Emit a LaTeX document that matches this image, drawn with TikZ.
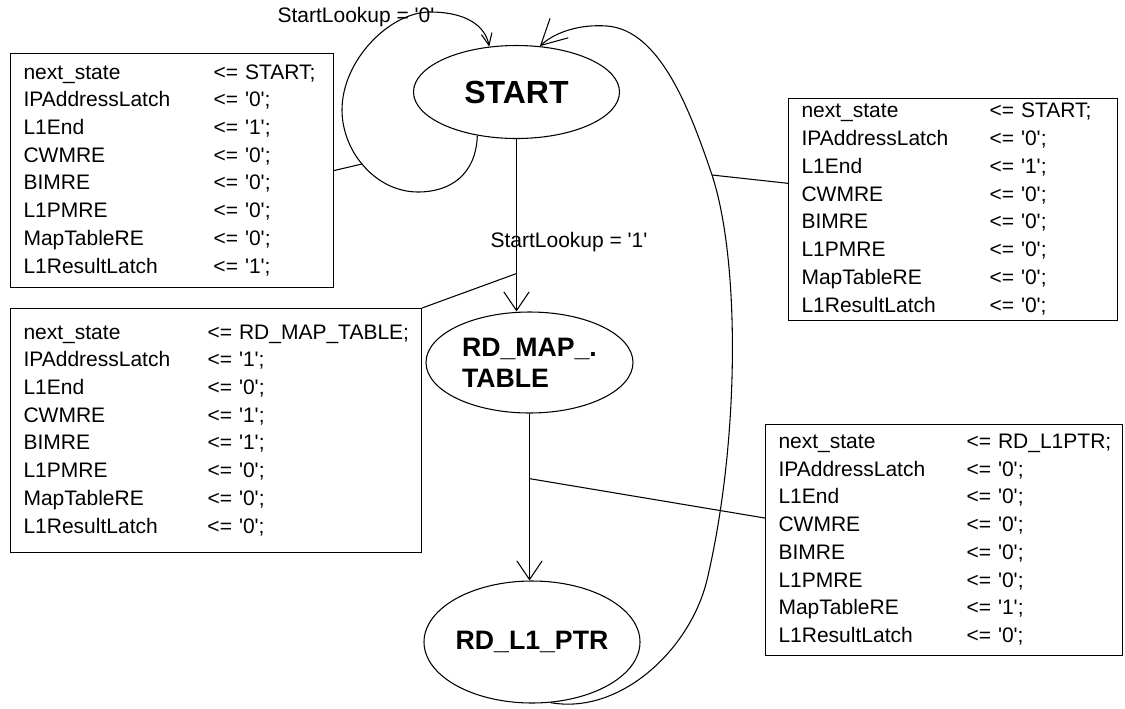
\documentclass[tikz,border=0pt]{standalone}
\usepackage{fontspec}
\usetikzlibrary{arrows.meta,shapes.geometric}
\newfontfamily\diagfont{Liberation Sans}
\newcommand{\sig}[1]{\textquotesingle#1\textquotesingle}
\newcommand{\acts}[9] % {colonne}{next_state}{IPAddressLatch}{L1End}{CWMRE}{BIMRE}{L1PMRE}{MapTableRE}{L1ResultLatch}
{%
	\begin{tabular}{@{}p{#1}@{}l@{}}
	next\_state & <= #2;\\
	IPAddressLatch & <= \sig{#3};\\
	L1End & <= \sig{#4};\\
	CWMRE & <= \sig{#5};\\
	BIMRE & <= \sig{#6};\\
	L1PMRE & <= \sig{#7};\\
	MapTableRE & <= \sig{#8};\\
	L1ResultLatch & <= \sig{#9};
	\end{tabular}%
}
\tikzset{
	state/.style={ellipse, draw, line width=0.8pt, inner sep=0pt, font=\diagfont\bfseries\fontsize{20}{23}\selectfont},
	actbox/.style={draw, line width=0.8pt, anchor=north west, inner xsep=9.75pt, inner ysep=0pt, font=\diagfont\fontsize{15.75}{20.8}\selectfont},
	guard/.style={font=\diagfont\fontsize{15.75}{20.8}\selectfont},
	link/.style={line width=0.8pt},
	trans/.style={line width=0.8pt, -{Straight Barb[length=14pt,width=19pt]}},
	selfloop/.style={line width=0.8pt, -{Straight Barb[length=9pt,width=8pt]}},
	backloop/.style={line width=0.8pt, -{Straight Barb[length=19pt,width=20pt]}}
}

\begin{document}
\begin{tikzpicture}[x=0.75pt, y=-0.75pt]
	\useasboundingbox[fill=white] (0,0) rectangle (1125,708);

	% etats
	\node[state, minimum width=154.5pt, minimum height=69.75pt, font=\diagfont\bfseries\fontsize{24}{27}\selectfont] (start) at (516.5,92) {START};
	\node[state, minimum width=155.25pt, minimum height=75.75pt, align=left] (rdmap) at (529.5,362.5) {RD\_MAP\_.\\TABLE};
	\node[state, minimum width=162pt, minimum height=91.5pt] (rdl1) at (532,642) {RD\_L1\_PTR};

	% sorties
	\node[actbox, text width=222.75pt, minimum height=175.5pt] (ltbox) at (10,53) {\acts{142.5pt}{START}{0}{1}{0}{0}{0}{0}{1}};
	\node[actbox, text width=288.75pt, minimum height=183pt] (lmbox) at (10,308) {\acts{138pt}{RD\_MAP\_TABLE}{1}{0}{1}{1}{0}{0}{0}};
	\node[actbox, text width=227.25pt, minimum height=165pt] (rtbox) at (788,98) {\acts{141pt}{START}{0}{1}{0}{0}{0}{0}{0}};
	\node[actbox, text width=248.25pt, minimum height=173.25pt] (rbbox) at (765,424) {\acts{141pt}{RD\_L1PTR}{0}{0}{0}{0}{0}{1}{0}};

	\node[guard] (g0) at (356,17) {StartLookup = \sig{0}};
	\node[guard] (g1) at (569,242) {StartLookup = \sig{1}};

	% transitions
	\draw[trans] (start.south) -- coordinate[pos=.78] (jB) (start.south |- rdmap.north);
	\draw[trans] (rdmap.south) -- coordinate[pos=.39] (jD) (rdmap.south |- rdl1.north);
	\draw[selfloop] (start.228) .. controls (476,175) and (450,192) .. (418,192)
		.. controls (395,192) and (375,180) .. (362,164) coordinate (jA)
		.. controls (350,150) and (342,130) .. (342,110)
		.. controls (342,60) and (390,12) .. (430,12)
		.. controls (465,12) and (485,25) .. (start.121);
	\draw[backloop] (rdl1.287) .. controls (620,715) and (690,650) .. (707,580)
		.. controls (740,440) and (740,260) .. (712,175) coordinate (jC)
		.. controls (690,110) and (660,30) .. (607,26)
		.. controls (580,24) and (555,32) .. (start.63);

	\draw[link] (ltbox.east) -- (jA);
	\draw[link] (lmbox.north east) -- (jB);
	\draw[link] (rtbox.171) -- (jC);
	\draw[link] (jD) -- (rbbox.173);
\end{tikzpicture}
\end{document}
